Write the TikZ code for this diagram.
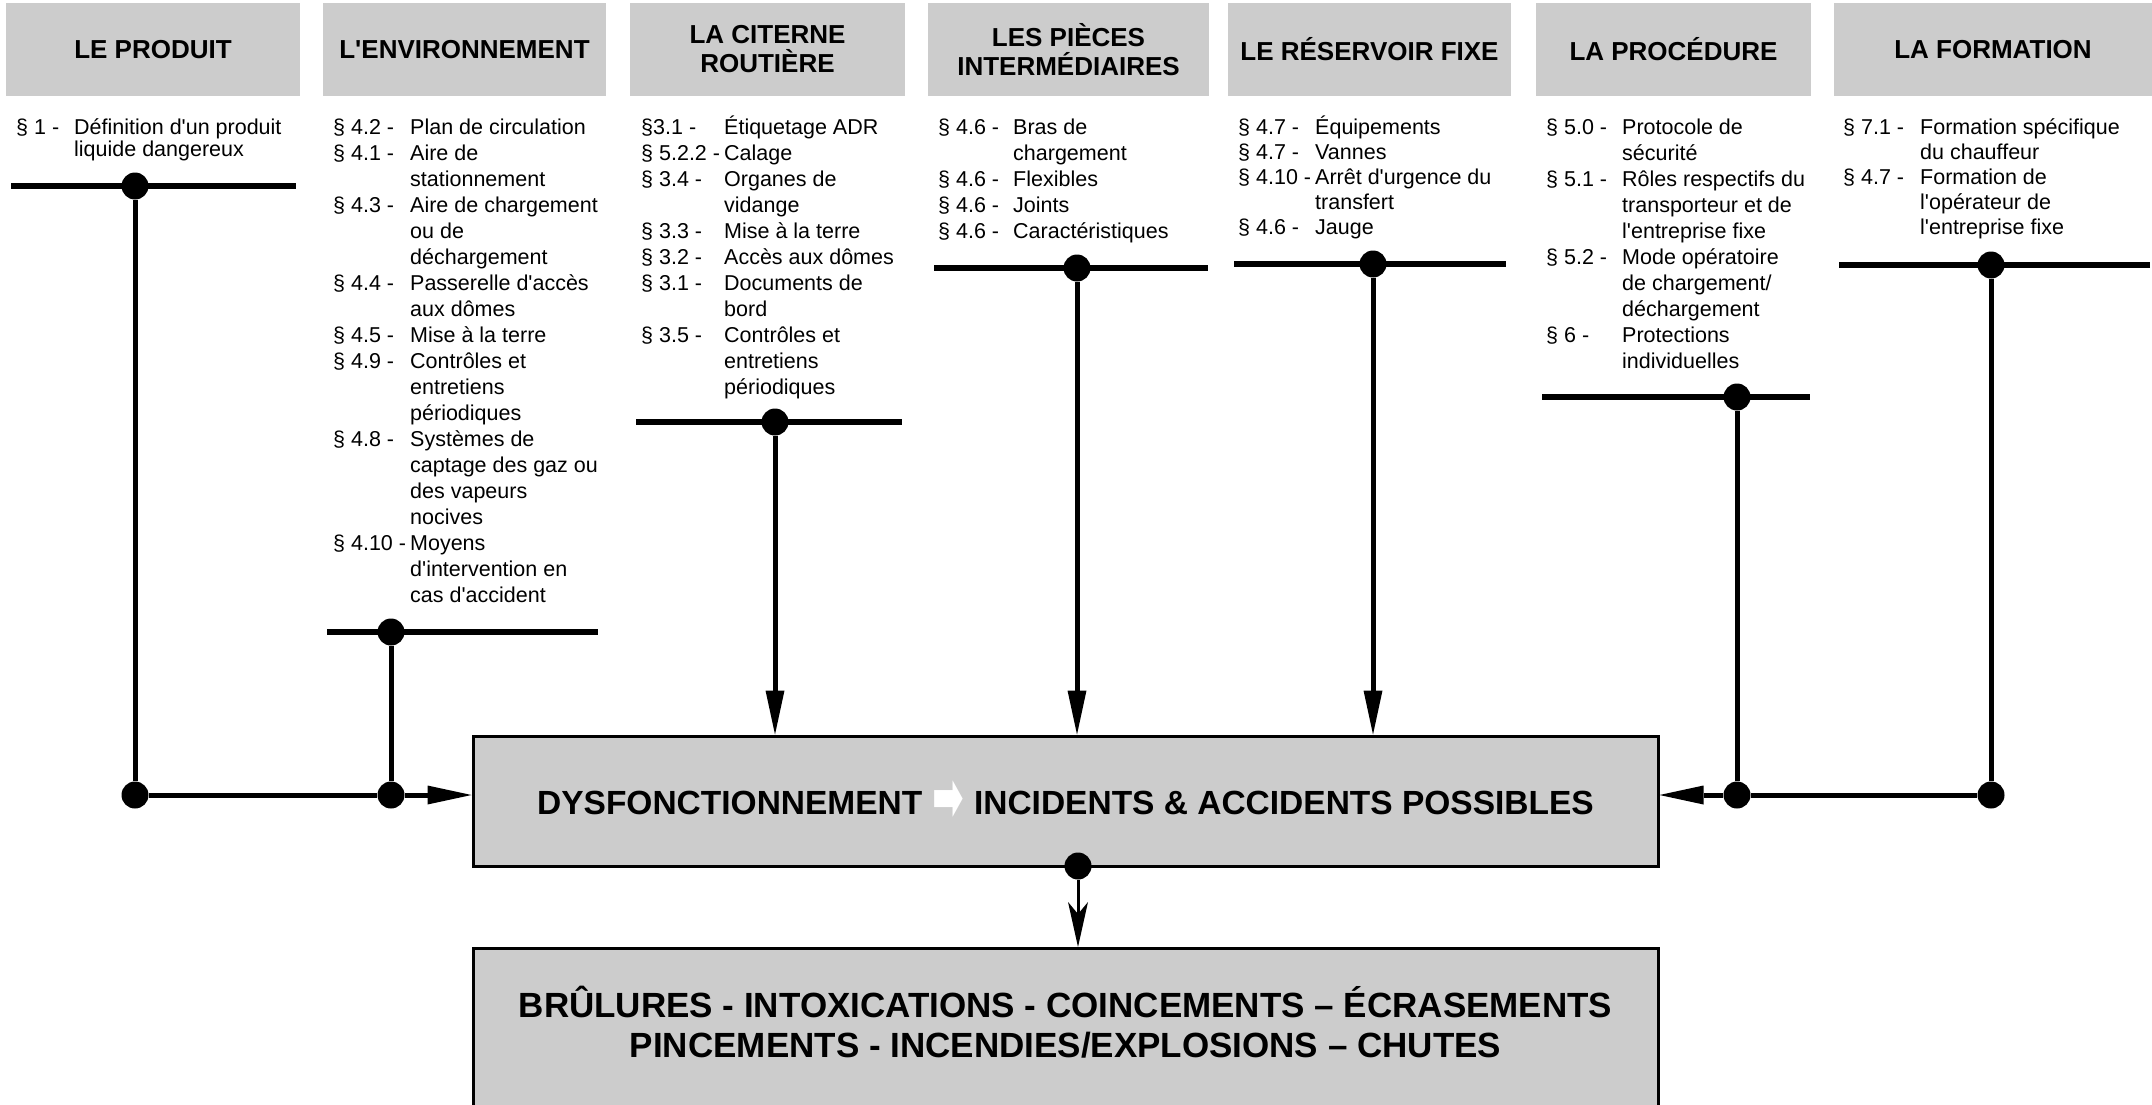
\documentclass[tikz,border=0pt]{standalone}
\usepackage{graphicx}
\usepackage{fontspec}
\setmainfont{Liberation Sans}[Ligatures=TeXOff]
\newfontfamily\arrowfont{DejaVu Sans}[Ligatures=TeXOff]
\usetikzlibrary{arrows.meta}
\definecolor{boxgray}{HTML}{CCCCCC}
\newlength\labw
\newcommand\ent[2]{\par\hangindent=\labw\hangafter=1\noindent\makebox[\labw][l]{#1}#2}
\newcommand\lista[3]{\parbox[t]{420pt}{\fontsize{21.5}{#2}\selectfont\setlength\labw{#1}#3}}
\begin{document}
\begin{tikzpicture}[x=1pt,y=-1pt,
  hdr/.style={fill=boxgray, inner sep=0pt, minimum height=93pt, align=center,
    font=\fontsize{26}{29}\selectfont\bfseries},
  lst/.style={inner sep=0pt, anchor=base west},
  dot/.style={circle, fill=black, inner sep=0pt, minimum size=27pt},
  bar/.style={line width=6pt},
  conn/.style={line width=5pt},
  tri/.style={-{Triangle[length=44pt,width=19pt,line width=0pt]}},
  stl/.style={line width=3pt,-{Stealth[length=45pt,width=20pt,inset=12pt,line width=0pt]}},
  box/.style={draw=black, line width=3pt, fill=boxgray, inner sep=0pt}]

\useasboundingbox (0,0) rectangle (2152,1105);

% headers
\node[hdr, minimum width=294pt] (h1) at (153,49.5) {LE PRODUIT};
\node[hdr, minimum width=283pt] (h2) at (464.5,49.5) {L'ENVIRONNEMENT};
\node[hdr, minimum width=275pt] (h3) at (767.5,49.5) {LA CITERNE\\ROUTIÈRE};
\node[hdr, minimum width=281pt] (h4) at (1068.5,49.5) {LES PIÈCES\\INTERMÉDIAIRES};
\node[hdr, minimum width=283pt] (h5) at (1369.5,49.5) {LE RÉSERVOIR FIXE};
\node[hdr, minimum width=275pt] (h6) at (1673.5,49.5) {LA PROCÉDURE};
\node[hdr, minimum width=318pt] (h7) at (1993,49.5) {LA FORMATION};

% lists
\node[lst] (l1) at (16,135) {\lista{58pt}{22}{%
  \ent{§ 1 -}{Définition d'un produit\\liquide dangereux}}};
\node[lst] (l2) at (333,135) {\lista{77pt}{26}{%
  \ent{§ 4.2 -}{Plan de circulation}
  \ent{§ 4.1 -}{Aire de\\stationnement}
  \ent{§ 4.3 -}{Aire de chargement\\ou de\\déchargement}
  \ent{§ 4.4 -}{Passerelle d'accès\\aux dômes}
  \ent{§ 4.5 -}{Mise à la terre}
  \ent{§ 4.9 -}{Contrôles et\\entretiens\\périodiques}
  \ent{§ 4.8 -}{Systèmes de\\captage des gaz ou\\des vapeurs\\nocives}
  \ent{§ 4.10 -}{Moyens\\d'intervention en\\cas d'accident}}};
\node[lst] (l3) at (641,135) {\lista{83pt}{26}{%
  \ent{§3.1 -}{Étiquetage ADR}
  \ent{§ 5.2.2 -}{Calage}
  \ent{§ 3.4 -}{Organes de\\vidange}
  \ent{§ 3.3 -}{Mise à la terre}
  \ent{§ 3.2 -}{Accès aux dômes}
  \ent{§ 3.1 -}{Documents de\\bord}
  \ent{§ 3.5 -}{Contrôles et\\entretiens\\périodiques}}};
\node[lst] (l4) at (938,135) {\lista{75pt}{26}{%
  \ent{§ 4.6 -}{Bras de\\chargement}
  \ent{§ 4.6 -}{Flexibles}
  \ent{§ 4.6 -}{Joints}
  \ent{§ 4.6 -}{Caractéristiques}}};
\node[lst] (l5) at (1238,135) {\lista{77pt}{25}{%
  \ent{§ 4.7 -}{Équipements}
  \ent{§ 4.7 -}{Vannes}
  \ent{§ 4.10 -}{Arrêt d'urgence du\\transfert}
  \ent{§ 4.6 -}{Jauge}}};
\node[lst] (l6) at (1546,135) {\lista{76pt}{26}{%
  \ent{§ 5.0 -}{Protocole de\\sécurité}
  \ent{§ 5.1 -}{Rôles respectifs du\\transporteur et de\\l'entreprise fixe}
  \ent{§ 5.2 -}{Mode opératoire\\de chargement/\\déchargement}
  \ent{§ 6 -}{Protections\\individuelles}}};
\node[lst] (l7) at (1843,135) {\lista{77pt}{25}{%
  \ent{§ 7.1 -}{Formation spécifique\\du chauffeur}
  \ent{§ 4.7 -}{Formation de\\l'opérateur de\\l'entreprise fixe}}};

% bars
\draw[bar] (11,186) -- (296,186);
\draw[bar] (327,632) -- (598,632);
\draw[bar] (636,422) -- (902,422);
\draw[bar] (934,268) -- (1208,268);
\draw[bar] (1234,264) -- (1506,264);
\draw[bar] (1542,397) -- (1810,397);
\draw[bar] (1839,265) -- (2150,265);

% dots
\node[dot] (d1) at (135,186) {};
\node[dot] (d2) at (391,632) {};
\node[dot] (d3) at (775,422) {};
\node[dot] (d4) at (1077,268) {};
\node[dot] (d5) at (1373,264) {};
\node[dot] (d6) at (1737,397) {};
\node[dot] (d7) at (1991,265) {};
\node[dot] (j1) at (135,795) {};
\node[dot] (j2) at (391,795) {};
\node[dot] (j6) at (1737,795) {};
\node[dot] (j7) at (1991,795) {};

% central boxes
\node[box, minimum width=1185pt, minimum height=130pt,
  font=\fontsize{33.5}{38}\selectfont\bfseries] (main) at (1065.5,801)
  {DYSFONCTIONNEMENT\hspace{10pt}\raisebox{-6pt}{\scalebox{1.05}[1.9]{\arrowfont\fontsize{36}{36}\selectfont\color{white}➡}}\hspace{10pt}INCIDENTS \& ACCIDENTS POSSIBLES};
\node[box, minimum width=1185pt, minimum height=190pt, anchor=north] (res) at (1065.5,947) {};
\node[font=\fontsize{35}{40}\selectfont\bfseries, align=center, inner sep=0pt] (restxt) at (1065.5,1022)
  {BRÛLURES - INTOXICATIONS - COINCEMENTS – ÉCRASEMENTS\\PINCEMENTS - INCENDIES/EXPLOSIONS – CHUTES};
\node[dot] (dm) at (1078,866) {};

% connectors
\draw[conn] (d1) -- (j1);
\draw[conn] (d2) -- (j2);
\draw[conn] (j1) -- (j2);
\draw[conn,tri] (j2) -- (main.west |- j2);
\draw[conn,tri] (d3) -- (d3 |- main.north);
\draw[conn,tri] (d4) -- (d4 |- main.north);
\draw[conn,tri] (d5) -- (d5 |- main.north);
\draw[conn] (d6) -- (j6);
\draw[conn] (d7) -- (j7);
\draw[conn] (j7) -- (j6);
\draw[conn,tri] (j6) -- (main.east |- j6);
\draw[stl] (dm) -- (dm |- res.north);
\end{tikzpicture}
\end{document}
